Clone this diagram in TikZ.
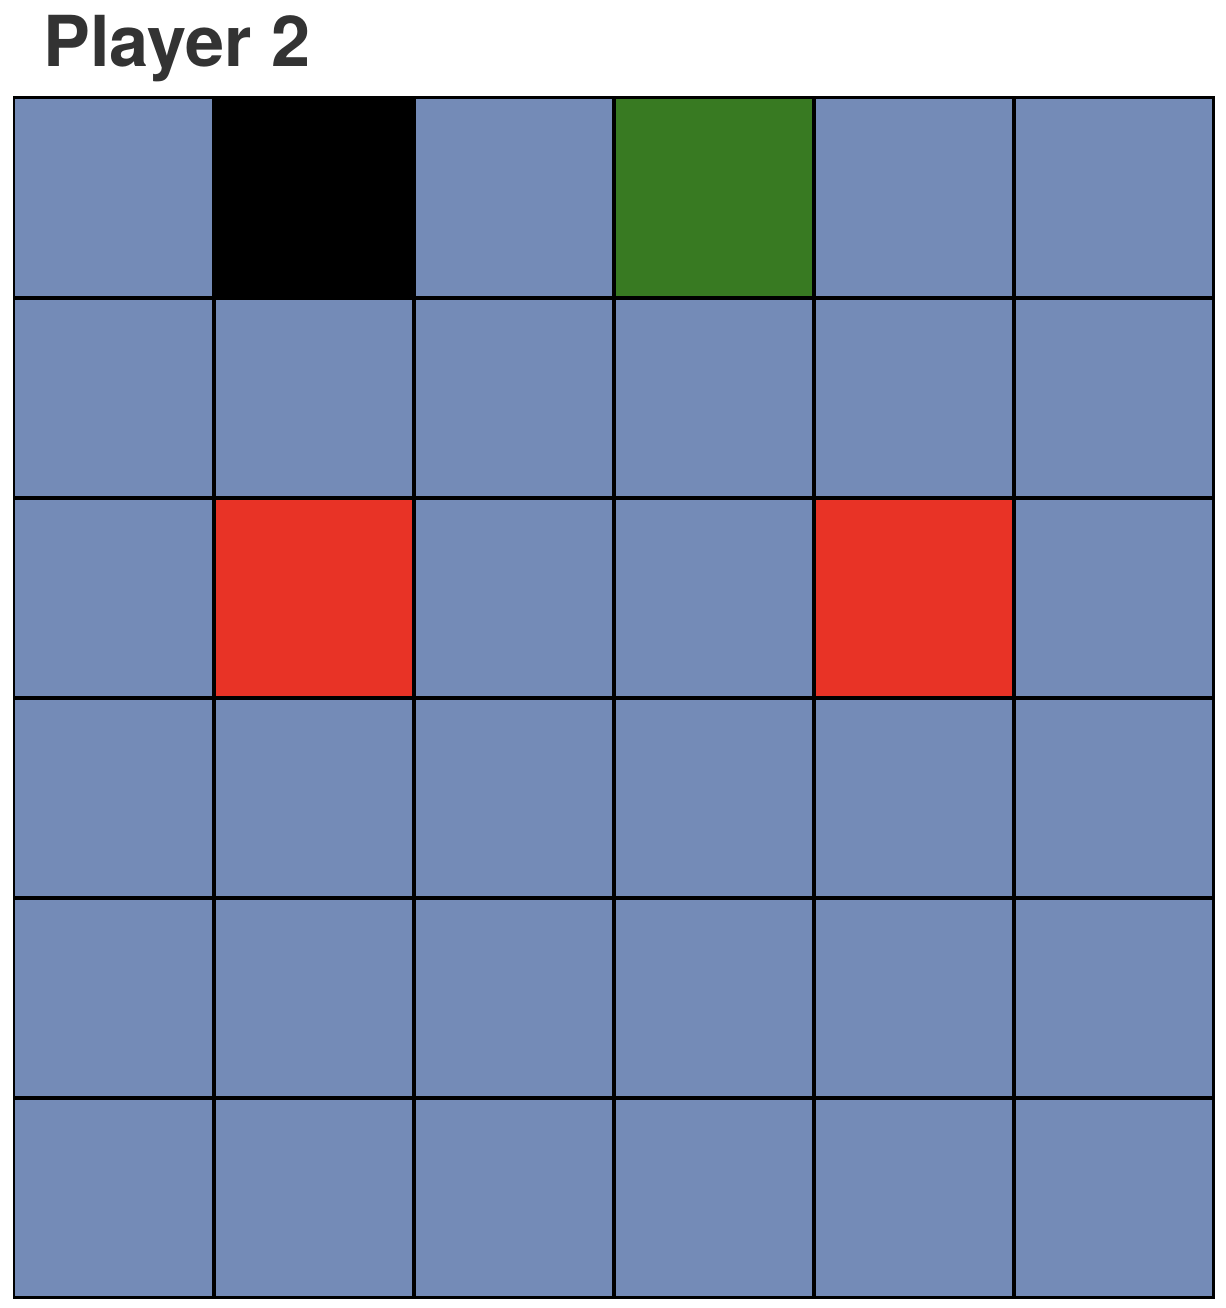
\documentclass[tikz,border=0pt]{standalone}
\usepackage{fontspec}
\setmainfont{TeX Gyre Heros}
\definecolor{cellblue}{HTML}{748BB7}
\definecolor{cellgreen}{HTML}{387A22}
\definecolor{cellred}{HTML}{E83326}
\definecolor{titlegray}{HTML}{333333}
\begin{document}
\begin{tikzpicture}[x=0.02cm,y=-0.02cm,
  cell/.style={draw=black,line width=0.06cm,fill=cellblue,minimum size=4cm,inner sep=0pt,outer sep=0pt,anchor=north west},
  title/.style={text=titlegray,font=\bfseries\fontsize{40}{48}\selectfont,anchor=base west,inner sep=0pt}]
\useasboundingbox[fill=white] (0,0) rectangle (1226,1308);
\node[title] (title) at (43,67) {Player 2};
\foreach \r in {0,...,5}{
  \foreach \c in {0,...,5}{
    \node[cell] (c-\r-\c) at ({14+200*\c},{98+200*\r}) {};
  }
}
\node[cell,fill=black] (c-0-1x) at (214,98) {};
\node[cell,fill=cellgreen] (c-0-3x) at (614,98) {};
\node[cell,fill=cellred] (c-2-1x) at (214,498) {};
\node[cell,fill=cellred] (c-2-4x) at (814,498) {};
\end{tikzpicture}
\end{document}
